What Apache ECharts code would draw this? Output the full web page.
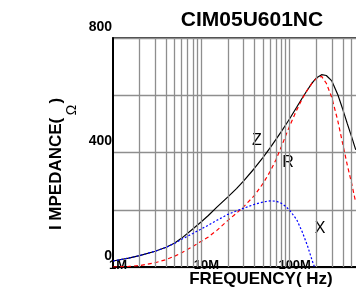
<!DOCTYPE html>
<html>
<head>
<meta charset="utf-8">
<script src="https://cdn.jsdelivr.net/npm/echarts@6/dist/echarts.min.js"></script>
<style>
  html, body { margin: 0; padding: 0; background: #fff; }
  #chart { width: 356px; height: 293px; }
</style>
</head>
<body>
<div id="chart"></div>
<script>
// frequency in MHz
var freqMHz = [1, 1.5, 2, 3, 4, 5, 6, 8, 10, 12, 15, 20, 25, 30, 40, 50, 60, 70, 80, 90,
  100, 120, 140, 160, 180, 190, 200, 230, 260, 300, 350, 400, 450, 500, 560]
// impedance values (ohm)
var zVals = [21, 31, 40, 55, 69, 84, 101, 133, 158, 180, 209, 245, 274, 300, 345, 383, 416, 446, 472, 496,
  518, 558, 592, 620, 643, 652, 660, 672, 669, 650, 603, 550, 500, 457, 409]
var rVals = [0, 2, 5, 15, 26, 38, 50, 72, 90, 105, 128, 163, 188, 210, 250, 292, 333, 375, 418, 458,
  493, 548, 590, 620, 643, 651, 658, 666, 642, 592, 512, 428, 355, 296, 225]
var xVals = [21, 31, 40, 55, 69, 83, 97, 117, 133, 146, 163, 184, 196, 205, 219, 227, 231, 230, 223, 212,
  198, 166, 120, 72, 22, 2, null, null, null, null, null, null, null, null, null]

var tickNames = { 1e6: '1M', 1e7: '10M', 1e8: '100M' }
var gridMultipliers = [1, 2, 3, 4, 5, 6, 7, 8, 9]
var gridDecades = [1e6, 1e7, 1e8]

function pairs(vals) {
  var out = []
  freqMHz.forEach(function (f, i) { out.push([f * 1e6, vals[i]]) })
  return out
}

var vLines = []
gridDecades.forEach(function (d) {
  gridMultipliers.forEach(function (m) { if (m > 1 || d > 1e6) vLines.push({ xAxis: m * d }) })
})

var font = 'Liberation Sans, Arial, sans-serif'
var gridGray = '#8e8e8e'

var myChart = echarts.init(document.getElementById('chart'), null, { renderer: 'canvas' })

myChart.setOption({
  animation: false,
  backgroundColor: '#fff',
  grid: {
    left: 113, top: 38, width: 265, height: 229,
    containLabel: false, outerBoundsMode: 'none',
    show: true, borderColor: '#000', borderWidth: 1.5, backgroundColor: 'transparent'
  },
  xAxis: {
    type: 'log',
    logBase: 10,
    min: 1e6,
    max: 1e9,
    axisLine: { show: true, lineStyle: { color: '#000', width: 2 } },
    axisTick: { show: false },
    splitLine: { show: false },
    axisLabel: {
      color: '#000', fontWeight: 'bold', fontSize: 13, fontFamily: font,
      verticalAlign: 'middle', margin: -2, padding: [0, 0, 0, 10],
      formatter: function (v) { return tickNames[v] || '' }
    }
  },
  yAxis: {
    type: 'value',
    min: 0,
    max: 800,
    interval: 200,
    axisLine: { show: true, lineStyle: { color: '#000', width: 2 } },
    axisTick: { show: false },
    splitLine: { show: true, lineStyle: { color: gridGray, width: 1.3 } },
    axisLabel: {
      color: '#000', fontWeight: 'bold', fontSize: 14, fontFamily: font,
      margin: 1, verticalAlign: 'bottom', padding: [0, 0, 4, 0],
      formatter: function (v) { return v % 400 === 0 ? String(v) : '' }
    }
  },
  graphic: [
    { type: 'text', position: [252, 20], style: { text: 'CIM05U601NC', fill: '#000', font: 'bold 21px ' + font, textAlign: 'center', textVerticalAlign: 'middle' } },
    { type: 'text', position: [261, 279], style: { text: 'FREQUENCY( Hz)', fill: '#000', font: 'bold 17px ' + font, textAlign: 'center', textVerticalAlign: 'middle' } },
    { type: 'text', position: [56, 164], rotation: Math.PI / 2, style: { text: 'I MPEDANCE(   )', fill: '#000', font: 'bold 17px ' + font, textAlign: 'center', textVerticalAlign: 'middle' } },
    { type: 'text', position: [72, 110], rotation: Math.PI / 2, style: { text: 'Ω', fill: '#000', font: '14px ' + font, textAlign: 'center', textVerticalAlign: 'middle' } },
    { type: 'text', position: [257, 141], style: { text: 'Z', fill: '#000', font: '16px ' + font, textAlign: 'center', textVerticalAlign: 'middle' } },
    { type: 'text', position: [288, 163], style: { text: 'R', fill: '#000', font: '16px ' + font, textAlign: 'center', textVerticalAlign: 'middle' } },
    { type: 'text', position: [320, 229], style: { text: 'X', fill: '#000', font: '16px ' + font, textAlign: 'center', textVerticalAlign: 'middle' } }
  ],
  series: [
    {
      name: 'grid',
      type: 'line',
      data: [],
      z: 1,
      markLine: {
        silent: true,
        symbol: 'none',
        label: { show: false },
        lineStyle: { color: gridGray, width: 1.3, type: 'solid' },
        data: vLines
      }
    },
    {
      name: 'Z', type: 'line', data: pairs(zVals), smooth: false, showSymbol: false, z: 3,
      lineStyle: { color: '#000', width: 1.2 }
    },
    {
      name: 'R', type: 'line', data: pairs(rVals), smooth: false, showSymbol: false, z: 4,
      lineStyle: { color: '#ff0000', width: 1.2, type: [4, 3] }
    },
    {
      name: 'X', type: 'line', data: pairs(xVals), smooth: false, showSymbol: false, z: 5,
      lineStyle: { color: '#0000ff', width: 1.2, type: [2, 2] }
    }
  ]
})
</script>
</body>
</html>
